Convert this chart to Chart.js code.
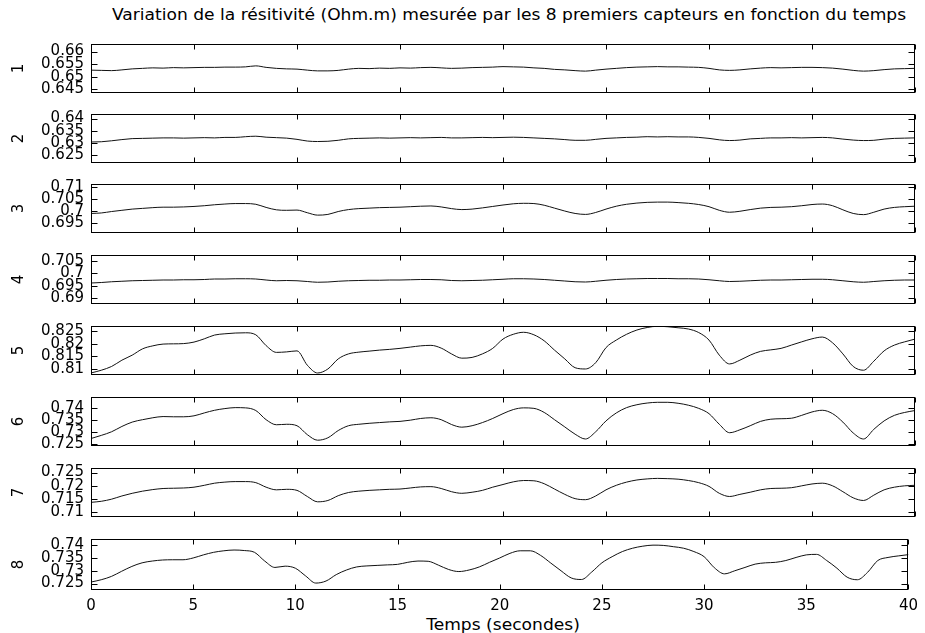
<!DOCTYPE html>
<html>
<head>
<meta charset="utf-8">
<script src="https://cdn.jsdelivr.net/npm/chart.js@4.4.1/dist/chart.umd.min.js"></script>
<style>
    body { margin: 0; background: #fff; width: 925px; height: 633px; position: relative; overflow: hidden;
           font-family: 'DejaVu Sans', sans-serif; }
    .box { position: absolute; left: 0; width: 925px; }
    #titre { position: absolute; left: 97px; width: 824px; top: 6px; text-align: center; font-size: 15px; color: #000;
             white-space: nowrap; transform: scaleX(1.14); transform-origin: center; }
    #xlabel { position: absolute; left: 91px; width: 824px; top: 616px; text-align: center; font-size: 15px; color: #000;
              transform: scaleX(1.14); transform-origin: center; }
</style>
</head>
<body>
<div id="titre">Variation de la résitivité (Ohm.m) mesurée par les 8 premiers capteurs en fonction du temps</div>
<div id="xlabel">Temps (secondes)</div>
<script>
// temps en secondes (pas de 0.5 s)
const times = Array.from({ length: 81 }, (_, i) => i * 0.5);
const xTicks = [0, 5, 10, 15, 20, 25, 30, 35, 40];

// capteur 1
const s1 = [0.6526, 0.6525, 0.6524, 0.6527, 0.6531, 0.6533, 0.6535, 0.6534, 0.6536, 0.6535,
    0.6536, 0.6537, 0.6537, 0.6538, 0.6538, 0.6539, 0.6543, 0.6537, 0.6533, 0.6531,
    0.6530, 0.6526, 0.6523, 0.6523, 0.6525, 0.6530, 0.6533, 0.6532, 0.6534, 0.6533,
    0.6535, 0.6534, 0.6536, 0.6537, 0.6535, 0.6533, 0.6534, 0.6536, 0.6537, 0.6538,
    0.6540, 0.6539, 0.6538, 0.6535, 0.6533, 0.6529, 0.6527, 0.6524, 0.6522, 0.6526,
    0.6530, 0.6533, 0.6536, 0.6538, 0.6539, 0.6540, 0.6539, 0.6539, 0.6538, 0.6537,
    0.6533, 0.6527, 0.6525, 0.6527, 0.6531, 0.6534, 0.6536, 0.6535, 0.6536, 0.6537,
    0.6537, 0.6536, 0.6534, 0.6530, 0.6525, 0.6522, 0.6524, 0.6528, 0.6531, 0.6532, 0.6533];
// capteur 2
const s2 = [0.6303, 0.6304, 0.6308, 0.6313, 0.6317, 0.6318, 0.6319, 0.6320, 0.6320, 0.6319,
    0.6320, 0.6321, 0.6320, 0.6322, 0.6322, 0.6325, 0.6327, 0.6323, 0.6321, 0.6319,
    0.6314, 0.6307, 0.6305, 0.6306, 0.6310, 0.6316, 0.6318, 0.6319, 0.6320, 0.6319,
    0.6320, 0.6321, 0.6320, 0.6321, 0.6322, 0.6320, 0.6320, 0.6321, 0.6322, 0.6321,
    0.6322, 0.6323, 0.6322, 0.6320, 0.6318, 0.6316, 0.6313, 0.6310, 0.6310, 0.6314,
    0.6318, 0.6320, 0.6322, 0.6323, 0.6325, 0.6324, 0.6325, 0.6324, 0.6324, 0.6322,
    0.6318, 0.6312, 0.6309, 0.6311, 0.6316, 0.6318, 0.6320, 0.6320, 0.6321, 0.6320,
    0.6321, 0.6322, 0.6320, 0.6315, 0.6311, 0.6309, 0.6310, 0.6315, 0.6318, 0.6319, 0.6320];
// capteur 3
const s3 = [0.6990, 0.6992, 0.6998, 0.7003, 0.7008, 0.7011, 0.7014, 0.7016, 0.7016, 0.7017,
    0.7019, 0.7022, 0.7026, 0.7029, 0.7031, 0.7031, 0.7028, 0.7015, 0.7005, 0.7003,
    0.7004, 0.6993, 0.6983, 0.6986, 0.6998, 0.7006, 0.7010, 0.7012, 0.7014, 0.7015,
    0.7016, 0.7018, 0.7020, 0.7021, 0.7017, 0.7010, 0.7006, 0.7008, 0.7013, 0.7019,
    0.7025, 0.7030, 0.7032, 0.7031, 0.7024, 0.7012, 0.7000, 0.6990, 0.6986, 0.6994,
    0.7008, 0.7020, 0.7028, 0.7033, 0.7036, 0.7037, 0.7037, 0.7035, 0.7032, 0.7027,
    0.7018, 0.7003, 0.6995, 0.6999, 0.7006, 0.7012, 0.7015, 0.7016, 0.7018, 0.7022,
    0.7027, 0.7029, 0.7022, 0.7005, 0.6990, 0.6985, 0.6995, 0.7008, 0.7015, 0.7018, 0.7020];
// capteur 4
const s4 = [0.6961, 0.6963, 0.6966, 0.6968, 0.6970, 0.6971, 0.6972, 0.6973, 0.6973, 0.6974,
    0.6974, 0.6975, 0.6977, 0.6977, 0.6978, 0.6978, 0.6977, 0.6973, 0.6970, 0.6971,
    0.6970, 0.6967, 0.6964, 0.6965, 0.6968, 0.6970, 0.6971, 0.6972, 0.6972, 0.6973,
    0.6973, 0.6974, 0.6975, 0.6975, 0.6974, 0.6971, 0.6970, 0.6971, 0.6972, 0.6974,
    0.6976, 0.6978, 0.6978, 0.6977, 0.6975, 0.6972, 0.6969, 0.6966, 0.6965, 0.6968,
    0.6972, 0.6975, 0.6977, 0.6978, 0.6979, 0.6979, 0.6979, 0.6978, 0.6978, 0.6977,
    0.6974, 0.6970, 0.6967, 0.6968, 0.6970, 0.6972, 0.6973, 0.6973, 0.6974, 0.6975,
    0.6976, 0.6976, 0.6974, 0.6970, 0.6966, 0.6964, 0.6967, 0.6970, 0.6972, 0.6973, 0.6973];
// capteur 5
const s5 = [0.8084, 0.8095, 0.8110, 0.8135, 0.8155, 0.8180, 0.8192, 0.8199, 0.8200, 0.8201,
    0.8207, 0.8220, 0.8235, 0.8240, 0.8243, 0.8244, 0.8236, 0.8193, 0.8166, 0.8168,
    0.8172, 0.8115, 0.8084, 0.8100, 0.8140, 0.8160, 0.8167, 0.8171, 0.8175, 0.8178,
    0.8182, 0.8187, 0.8192, 0.8194, 0.8183, 0.8160, 0.8143, 0.8146, 0.8160, 0.8182,
    0.8219, 0.8238, 0.8246, 0.8236, 0.8212, 0.8175, 0.8140, 0.8105, 0.8100, 0.8125,
    0.8185, 0.8215, 0.8238, 0.8255, 0.8265, 0.8270, 0.8268, 0.8264, 0.8259, 0.8245,
    0.8215, 0.8155, 0.8120, 0.8135, 0.8155, 0.8170, 0.8176, 0.8182, 0.8195, 0.8208,
    0.8220, 0.8227, 0.8204, 0.8160, 0.8110, 0.8095, 0.8131, 0.8172, 0.8195, 0.8208, 0.8219];
// capteur 6
const s6 = [0.7272, 0.7285, 0.7300, 0.7322, 0.7340, 0.7350, 0.7358, 0.7363, 0.7362, 0.7362,
    0.7366, 0.7378, 0.7389, 0.7396, 0.7400, 0.7399, 0.7388, 0.7350, 0.7329, 0.7331,
    0.7325, 0.7288, 0.7265, 0.7275, 0.7305, 0.7325, 0.7331, 0.7335, 0.7338, 0.7341,
    0.7343, 0.7348, 0.7355, 0.7358, 0.7350, 0.7330, 0.7319, 0.7325, 0.7338, 0.7355,
    0.7375, 0.7392, 0.7399, 0.7397, 0.7380, 0.7350, 0.7320, 0.7290, 0.7270, 0.7300,
    0.7345, 0.7378, 0.7400, 0.7412, 0.7419, 0.7422, 0.7422, 0.7418, 0.7410, 0.7397,
    0.7375, 0.7331, 0.7296, 0.7308, 0.7325, 0.7343, 0.7352, 0.7354, 0.7356, 0.7368,
    0.7382, 0.7389, 0.7375, 0.7340, 0.7295, 0.7270, 0.7310, 0.7345, 0.7368, 0.7380, 0.7388];
// capteur 7
const s7 = [0.7138, 0.7142, 0.7150, 0.7162, 0.7172, 0.7180, 0.7186, 0.7190, 0.7191, 0.7192,
    0.7195, 0.7202, 0.7210, 0.7214, 0.7216, 0.7216, 0.7212, 0.7195, 0.7185, 0.7187,
    0.7183, 0.7160, 0.7140, 0.7145, 0.7163, 0.7175, 0.7180, 0.7183, 0.7185, 0.7187,
    0.7188, 0.7192, 0.7196, 0.7197, 0.7190, 0.7178, 0.7172, 0.7176, 0.7183, 0.7195,
    0.7205, 0.7215, 0.7220, 0.7219, 0.7208, 0.7188, 0.7168, 0.7152, 0.7148, 0.7162,
    0.7185, 0.7202, 0.7214, 0.7222, 0.7226, 0.7228, 0.7227, 0.7225, 0.7220, 0.7212,
    0.7198, 0.7172, 0.7160, 0.7168, 0.7176, 0.7185, 0.7190, 0.7191, 0.7193, 0.7200,
    0.7207, 0.7210, 0.7200, 0.7178, 0.7155, 0.7145, 0.7165, 0.7185, 0.7195, 0.7200, 0.7202];
// capteur 8
const s8 = [0.7256, 0.7265, 0.7278, 0.7298, 0.7317, 0.7331, 0.7338, 0.7342, 0.7343, 0.7343,
    0.7350, 0.7362, 0.7372, 0.7378, 0.7381, 0.7379, 0.7372, 0.7338, 0.7313, 0.7318,
    0.7310, 0.7280, 0.7252, 0.7260, 0.7285, 0.7303, 0.7315, 0.7319, 0.7321, 0.7323,
    0.7325, 0.7333, 0.7338, 0.7337, 0.7322, 0.7305, 0.7297, 0.7303, 0.7315, 0.7333,
    0.7350, 0.7368, 0.7378, 0.7378, 0.7360, 0.7330, 0.7300, 0.7272, 0.7266, 0.7295,
    0.7331, 0.7355, 0.7375, 0.7388, 0.7396, 0.7400, 0.7399, 0.7394, 0.7388, 0.7375,
    0.7355, 0.7312, 0.7288, 0.7300, 0.7313, 0.7326, 0.7331, 0.7333, 0.7340, 0.7352,
    0.7362, 0.7364, 0.7340, 0.7310, 0.7275, 0.7265, 0.7294, 0.7340, 0.7352, 0.7358, 0.7363];

// graduations et limites des axes y
const yTicks1 = [0.645, 0.65, 0.655, 0.66];
const yTicks2 = [0.625, 0.63, 0.635, 0.64];
const yTicks3 = [0.695, 0.7, 0.705, 0.71];
const yTicks4 = [0.69, 0.695, 0.7, 0.705];
const yTicks5 = [0.81, 0.815, 0.82, 0.825];
const yTicks6 = [0.725, 0.73, 0.735, 0.74];
const yTicks7 = [0.71, 0.715, 0.72, 0.725];
const yTicks8 = [0.725, 0.73, 0.735, 0.74];
const yMin = [0.6435, 0.6216, 0.6909, 0.6877, 0.8076, 0.7241, 0.7083, 0.7225];
const yMax = [0.6630, 0.6419, 0.7112, 0.7073, 0.8271, 0.7444, 0.7267, 0.7424];

const series = [s1, s2, s3, s4, s5, s6, s7, s8];
const yTicks = [yTicks1, yTicks2, yTicks3, yTicks4, yTicks5, yTicks6, yTicks7, yTicks8];

// position verticale des sous-graphes (haut du cadre) et hauteur du cadre
const plotTops = [42, 112, 182, 253, 324, 395, 466, 537];
const plotH = 53;
const padT = 14, padB = 14, xAxisH = 30;
const police = { family: "'DejaVu Sans', sans-serif", size: 15 };

// cadre noir + graduations vers l'intérieur (style MATLAB)
const cadre = {
    id: 'cadre',
    afterDraw(chart) {
        const { ctx, chartArea: a, scales: { x, y } } = chart;
        const L = Math.round(a.left) + 0.5, R = Math.round(a.right) - 0.5;
        const T = Math.round(a.top) + 0.5, B = Math.round(a.bottom) - 0.5;
        ctx.save();
        ctx.strokeStyle = '#000';
        ctx.lineWidth = 1;
        ctx.strokeRect(L, T, R - L, B - T);
        ctx.beginPath();
        x.ticks.forEach(t => {
            const px = Math.round(x.getPixelForValue(t.value)) + 0.5;
            ctx.moveTo(px, T); ctx.lineTo(px, T + 5);
            ctx.moveTo(px, B); ctx.lineTo(px, B - 5);
        });
        y.ticks.forEach(t => {
            const py = Math.round(y.getPixelForValue(t.value)) + 0.5;
            ctx.moveTo(L, py); ctx.lineTo(L + 6, py);
            ctx.moveTo(R, py); ctx.lineTo(R - 6, py);
        });
        ctx.stroke();
        ctx.restore();
    }
};

series.forEach((s, i) => {
    const last = i === series.length - 1;
    const box = document.createElement('div');
    box.className = 'box';
    box.style.top = (plotTops[i] - padT) + 'px';
    box.style.height = (padT + plotH + (last ? xAxisH : padB)) + 'px';
    const canvas = document.createElement('canvas');
    box.appendChild(canvas);
    document.body.appendChild(box);

    new Chart(canvas.getContext('2d'), {
        type: 'line',
        data: {
            datasets: [{
                data: times.map((t, j) => ({ x: t, y: s[j] })),
                borderColor: '#111',
                borderWidth: 1,
                pointRadius: 0,
                fill: false,
                cubicInterpolationMode: 'monotone'
            }]
        },
        options: {
            responsive: true,
            maintainAspectRatio: false,
            animation: false,
            layout: { padding: { top: padT, bottom: last ? 0 : padB, left: 0, right: 10 } },
            plugins: { legend: { display: false }, tooltip: { enabled: false } },
            scales: {
                x: {
                    type: 'linear',
                    min: 0,
                    max: 40,
                    grid: { display: false, drawTicks: false },
                    border: { display: false },
                    afterBuildTicks: sc => { sc.ticks = xTicks.map(v => ({ value: v })); },
                    ticks: { display: last, padding: 7, autoSkip: false, maxRotation: 0, color: '#000', font: police },
                    afterFit: sc => { sc.height = last ? xAxisH : 0; }
                },
                y: {
                    min: yMin[i],
                    max: yMax[i],
                    grid: { display: false, drawTicks: false },
                    border: { display: false },
                    afterBuildTicks: sc => { sc.ticks = yTicks[i].map(v => ({ value: v })); },
                    ticks: {
                        padding: 7,
                        autoSkip: false,
                        color: '#000',
                        font: police,
                        callback: v => String(+v.toFixed(4))
                    },
                    title: { display: true, text: String(i + 1), color: '#000', font: police, padding: { top: 10, bottom: 0 } },
                    afterFit: sc => { sc.width = 91; }
                }
            }
        },
        plugins: [cadre]
    });
});
</script>
</body>
</html>
